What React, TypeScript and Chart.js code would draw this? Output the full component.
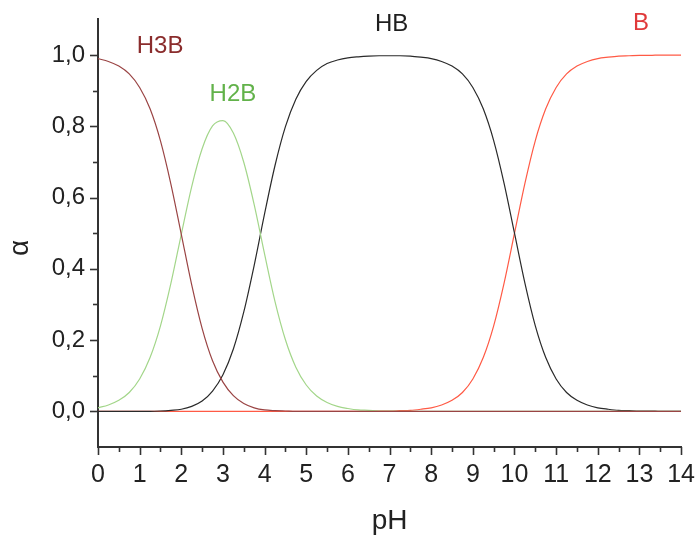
import React, { useEffect, useRef } from "react";
import { Chart, registerables } from "chart.js";

Chart.register(...registerables);

// pH values (x)
const pH = [
  0, 0.25, 0.5, 0.75, 1, 1.25, 1.5, 1.75, 2, 2.25, 2.5, 2.75, 3, 3.25, 3.5, 3.75,
  4, 4.25, 4.5, 4.75, 5, 5.25, 5.5, 5.75, 6, 6.25, 6.5, 6.75, 7, 7.25, 7.5, 7.75,
  8, 8.25, 8.5, 8.75, 9, 9.25, 9.5, 9.75, 10, 10.25, 10.5, 10.75, 11, 11.25, 11.5,
  11.75, 12, 12.25, 12.5, 12.75, 13, 13.25, 13.5, 13.75, 14,
];

const H3B = [
  0.99, 0.982, 0.969, 0.947, 0.909, 0.849, 0.759, 0.638, 0.497, 0.355, 0.233, 0.142,
  0.082, 0.044, 0.022, 0.01, 0.004, 0.002, 0.001, 0, 0, 0, 0, 0, 0, 0, 0, 0, 0, 0,
  0, 0, 0, 0, 0, 0, 0, 0, 0, 0, 0, 0, 0, 0, 0, 0, 0, 0, 0, 0, 0, 0, 0, 0, 0, 0, 0,
];

const H2B = [
  0.01, 0.018, 0.031, 0.053, 0.091, 0.151, 0.24, 0.359, 0.497, 0.631, 0.737, 0.801,
  0.816, 0.781, 0.699, 0.58, 0.441, 0.308, 0.201, 0.124, 0.074, 0.043, 0.025, 0.014,
  0.008, 0.004, 0.003, 0.001, 0.001, 0, 0, 0, 0, 0, 0, 0, 0, 0, 0, 0, 0, 0, 0, 0, 0,
  0, 0, 0, 0, 0, 0, 0, 0, 0, 0, 0, 0,
];

const HB = [
  0, 0, 0, 0, 0, 0, 0.001, 0.003, 0.006, 0.014, 0.029, 0.057, 0.103, 0.175, 0.279,
  0.41, 0.555, 0.69, 0.799, 0.876, 0.926, 0.957, 0.976, 0.986, 0.992, 0.995, 0.997,
  0.998, 0.998, 0.998, 0.997, 0.994, 0.99, 0.982, 0.969, 0.947, 0.909, 0.849, 0.76,
  0.64, 0.5, 0.36, 0.24, 0.151, 0.091, 0.053, 0.031, 0.018, 0.01, 0.006, 0.003, 0.002,
  0.001, 0.001, 0, 0, 0,
];

const B = [
  0, 0, 0, 0, 0, 0, 0, 0, 0, 0, 0, 0, 0, 0, 0, 0, 0, 0, 0, 0, 0, 0, 0, 0, 0, 0, 0,
  0.001, 0.001, 0.002, 0.003, 0.006, 0.01, 0.018, 0.031, 0.053, 0.091, 0.151, 0.24,
  0.36, 0.5, 0.64, 0.76, 0.849, 0.909, 0.947, 0.969, 0.982, 0.99, 0.994, 0.997, 0.998,
  0.999, 0.999, 1, 1, 1,
];

const seriesNames = ["H3B", "H2B", "HB", "B"];
const seriesValues = [H3B, H2B, HB, B];
const lineColors = ["#9a4444", "#a3d68a", "#2a2a2a", "#ff5a45"];
const labelColors = ["#8a2c2c", "#62b24a", "#1e1e1e", "#e0393a"];
// label anchor positions in data units (pH, alpha)
const labelX = [1.49, 3.24, 7.05, 13.04];
const labelY = [1.024, 0.89, 1.085, 1.09];

const xMajorTicks = [0, 1, 2, 3, 4, 5, 6, 7, 8, 9, 10, 11, 12, 13, 14];
const xMinorTicks = [0.5, 1.5, 2.5, 3.5, 4.5, 5.5, 6.5, 7.5, 8.5, 9.5, 10.5, 11.5, 12.5, 13.5];
const yMajorTicks = [0, 0.2, 0.4, 0.6, 0.8, 1.0];
const yTickLabels = ["0,0", "0,2", "0,4", "0,6", "0,8", "1,0"];
const yMinorTicks = [0.1, 0.3, 0.5, 0.7, 0.9];

const xTitle = "pH";
const yTitle = "α";

const FONT = "'Liberation Sans', Arial, sans-serif";
const AXIS_COLOR = "#333333";

const decorPlugin = {
  id: "decor",
  afterDraw(chart: any) {
    const ctx = chart.ctx;
    const xs = chart.scales.x;
    const ys = chart.scales.y;
    const area = chart.chartArea;
    ctx.save();
    ctx.strokeStyle = AXIS_COLOR;
    ctx.lineWidth = 1.6;
    const drawX = (vals: number[], len: number) => {
      vals.forEach((v) => {
        const px = Math.round(xs.getPixelForValue(v)) + 0.5;
        ctx.beginPath();
        ctx.moveTo(px, area.bottom);
        ctx.lineTo(px, area.bottom + len);
        ctx.stroke();
      });
    };
    drawX(xMajorTicks, 8);
    drawX(xMinorTicks, 5);
    const drawY = (vals: number[], len: number) => {
      vals.forEach((v) => {
        const py = Math.round(ys.getPixelForValue(v)) + 0.5;
        ctx.beginPath();
        ctx.moveTo(area.left, py);
        ctx.lineTo(area.left - len, py);
        ctx.stroke();
      });
    };
    drawY(yMajorTicks, 8);
    drawY(yMinorTicks, 5);

    // series labels
    ctx.font = `24px ${FONT}`;
    ctx.textAlign = "center";
    ctx.textBaseline = "middle";
    seriesNames.forEach((name, i) => {
      ctx.fillStyle = labelColors[i];
      ctx.fillText(name, xs.getPixelForValue(labelX[i]), ys.getPixelForValue(labelY[i]));
    });

    // axis titles
    ctx.fillStyle = "#222";
    ctx.font = `28px ${FONT}`;
    ctx.textAlign = "center";
    ctx.textBaseline = "alphabetic";
    ctx.fillText(xTitle, (area.left + area.right) / 2, 529);
    ctx.save();
    ctx.translate(28, 248);
    ctx.rotate(-Math.PI / 2);
    ctx.textBaseline = "alphabetic";
    ctx.font = `28px ${FONT}`;
    ctx.fillText(yTitle, 0, 0);
    ctx.restore();
    ctx.restore();
  },
};

export default function App() {
  const ref = useRef<HTMLCanvasElement | null>(null);
  useEffect(() => {
    if (!ref.current) return;
    const chart = new Chart(ref.current, {
      type: "line",
      data: {
        datasets: seriesNames.map((name, i) => ({
          label: name,
          data: pH.map((x, j) => ({ x, y: seriesValues[i][j] })),
          borderColor: lineColors[i],
          borderWidth: 1.2,
          pointRadius: 0,
          fill: false,
          tension: 0.4,
          cubicInterpolationMode: "monotone" as const,
        })),
      },
      options: {
        animation: false,
        responsive: false,
        maintainAspectRatio: false,
        layout: { padding: { top: 15, right: 18, left: 0, bottom: 0 } },
        plugins: {
          legend: { display: false },
          tooltip: { enabled: false },
        },
        scales: {
          x: {
            type: "linear",
            min: 0,
            max: 14,
            afterFit: (s: any) => {
              s.height = 91;
            },
            afterBuildTicks: (s: any) => {
              s.ticks = xMajorTicks.map((v) => ({ value: v }));
            },
            grid: { display: true, drawOnChartArea: false, drawTicks: true, tickLength: 8, color: "rgba(0,0,0,0)" },
            border: { display: true, color: AXIS_COLOR, width: 2 },
            ticks: {
              padding: 5,
              color: "#222",
              font: { family: FONT, size: 25 },
              maxRotation: 0,
              autoSkip: false,
              callback: (v: any) => String(v),
            },
          },
          y: {
            type: "linear",
            min: -0.1,
            max: 1.1,
            afterFit: (s: any) => {
              s.width = 98;
            },
            afterBuildTicks: (s: any) => {
              s.ticks = yMajorTicks.map((v) => ({ value: v }));
            },
            grid: { display: true, drawOnChartArea: false, drawTicks: true, tickLength: 8, color: "rgba(0,0,0,0)" },
            border: { display: true, color: AXIS_COLOR, width: 2 },
            ticks: {
              padding: 5,
              color: "#222",
              font: { family: FONT, size: 24 },
              autoSkip: false,
              callback: (v: any) => {
                const idx = yMajorTicks.findIndex((t) => Math.abs(t - Number(v)) < 1e-6);
                return idx >= 0 ? yTickLabels[idx] : "";
              },
            },
          },
        },
      },
      plugins: [decorPlugin],
    });
    return () => chart.destroy();
  }, []);
  return (
    <div style={{ position: "fixed", left: 0, top: 0, width: 700, height: 538, background: "#fff" }}>
      <canvas ref={ref} width={700} height={538} style={{ width: 700, height: 538, display: "block" }} />
    </div>
  );
}
